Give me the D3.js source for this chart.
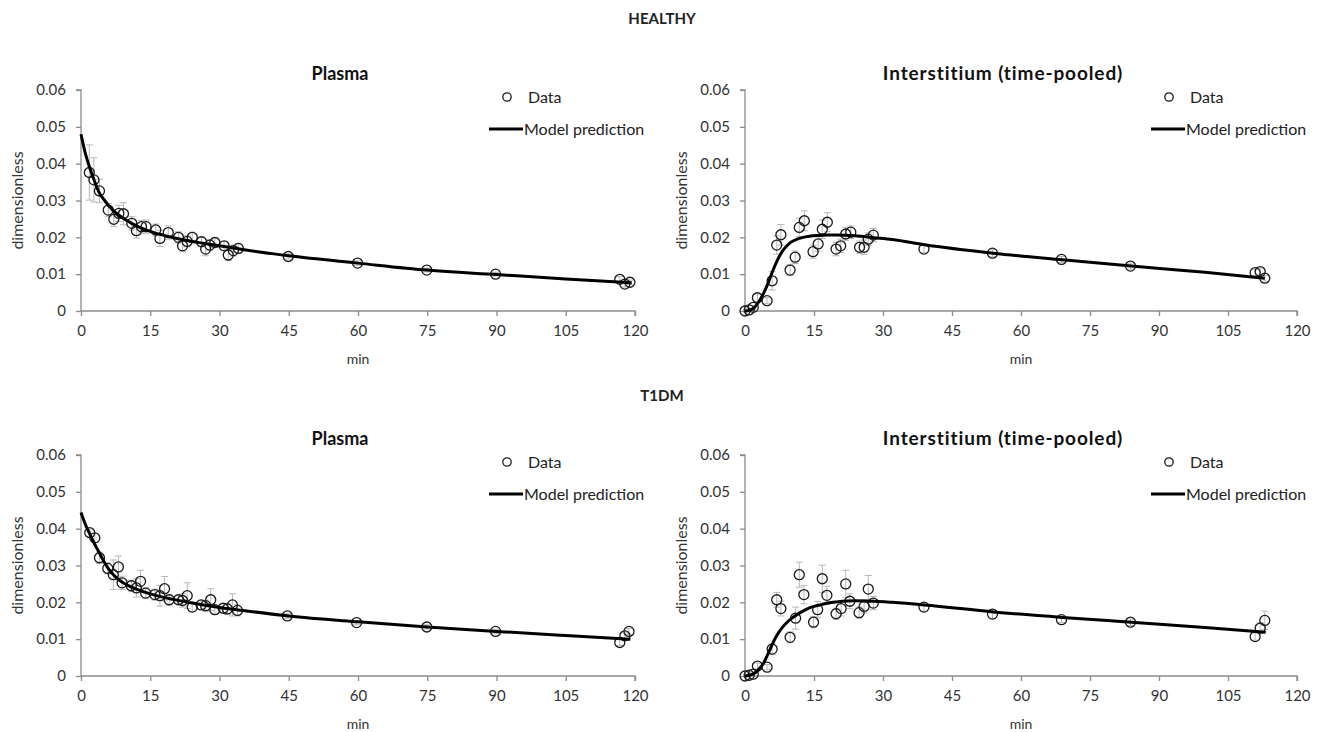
<!DOCTYPE html>
<html><head><meta charset="utf-8">
<script src="https://cdn.jsdelivr.net/npm/d3@7"></script>
<style>
body{margin:0;background:#fff;}
text{font-family:Lato,"Open Sans",sans-serif;}
</style></head>
<body><svg id="c" width="1323" height="732"></svg>
<script>
// ---------- data ----------
const xTicks = [0,15,30,45,60,75,90,105,120];
const yTicks = [0,0.01,0.02,0.03,0.04,0.05,0.06];
const yTickLabels = ["0","0.01","0.02","0.03","0.04","0.05","0.06"];
const groupTitles = ["HEALTHY","T1DM"];
const panelTitles = ["Plasma","Interstitium (time-pooled)"];
const legendLabels = ["Data","Model prediction"];

// Healthy plasma
const hpTime = [1.8,2.8,4.0,5.9,7.1,8.2,9.2,11.0,12.0,13.1,14.1,16.2,17.1,18.9,21.1,22.0,23.0,24.1,26.1,27.0,27.9,29.0,31.0,31.9,33.0,34.1,44.9,59.9,74.9,89.8,116.7,117.8,118.9];
const hpValue = [0.0376,0.0356,0.0326,0.0274,0.0249,0.0265,0.0264,0.0238,0.0218,0.0229,0.0229,0.0220,0.0197,0.0213,0.0200,0.0177,0.0189,0.0200,0.0188,0.0168,0.0179,0.0186,0.0177,0.0152,0.0164,0.0170,0.0148,0.0130,0.0111,0.0100,0.0086,0.0073,0.0078];
const hpError = [0.0075,0.0060,0.0032,0.0018,0.0020,0.0022,0.0030,0.0018,0.0020,0.0017,0.0018,0.0016,0.0022,0.0018,0.0015,0.0016,0.0015,0.0014,0.0012,0.0018,0.0015,0.0013,0.0012,0.0015,0.0015,0.0012,0.0007,0.0006,0.0005,0.0005,0.0008,0.0008,0.0006];
const hpModelTime = [0,1,2,3,4,5,6,8,10,12,15,20,25,30,35,45,60,75,90,105,119.3];
const hpModelValue = [0.0480,0.0425,0.0385,0.0350,0.0320,0.0302,0.0286,0.0262,0.0245,0.0231,0.0216,0.0199,0.0187,0.0177,0.0167,0.0150,0.0130,0.0111,0.0099,0.0087,0.0077];

// Healthy interstitium
const hiTime = [0,0.9,1.8,2.7,4.8,5.9,6.9,7.8,9.8,10.9,11.8,12.9,14.8,15.9,16.8,17.9,19.8,20.8,21.9,23.0,24.9,25.9,26.8,27.9,38.9,53.8,68.8,83.8,110.9,112.0,113.0];
const hiValue = [0,0.0003,0.0010,0.0036,0.0028,0.0082,0.0179,0.0207,0.0111,0.0146,0.0227,0.0245,0.0161,0.0182,0.0222,0.0241,0.0168,0.0177,0.0209,0.0214,0.0173,0.0173,0.0195,0.0206,0.0168,0.0157,0.0140,0.0122,0.0104,0.0107,0.0089];
const hiError = [0,0.0003,0.0005,0.0010,0.0008,0.0025,0.0025,0.0028,0.0015,0.0017,0.0025,0.0027,0.0018,0.0020,0.0025,0.0026,0.0018,0.0018,0.0018,0.0017,0.0017,0.0020,0.0017,0.0018,0.0010,0.0010,0.0008,0.0008,0.0008,0.0009,0.0008];
const hiModelTime = [0,1,2,3,4,5,6,7,8,9,10,12,14,16,18,20,24,28,32,39,54,69,84,100,113];
const hiModelValue = [0,0.0002,0.0009,0.0025,0.0047,0.0075,0.0108,0.0137,0.0160,0.0176,0.0187,0.0198,0.0203,0.0205,0.0206,0.0206,0.0204,0.0199,0.0194,0.0180,0.0157,0.0139,0.0122,0.0105,0.0089];

// T1DM plasma
const tpTime = [1.9,3.0,4.0,5.8,7.0,8.1,8.9,10.9,12.0,12.9,14.0,16.0,17.1,18.1,19.1,21.1,22.0,23.0,24.1,26.0,27.0,28.1,29.0,30.8,31.7,32.8,33.9,44.7,59.7,74.9,89.8,116.7,117.8,118.7];
const tpValue = [0.0389,0.0375,0.0321,0.0292,0.0275,0.0296,0.0253,0.0245,0.0239,0.0257,0.0225,0.0221,0.0218,0.0237,0.0207,0.0207,0.0205,0.0218,0.0187,0.0193,0.0191,0.0207,0.0180,0.0184,0.0182,0.0193,0.0178,0.0163,0.0145,0.0133,0.0121,0.0091,0.0109,0.0121];
const tpError = [0.0010,0.0012,0.0015,0.0015,0.0040,0.0030,0.0018,0.0015,0.0025,0.0030,0.0015,0.0015,0.0028,0.0033,0.0015,0.0012,0.0018,0.0035,0.0012,0.0012,0.0015,0.0030,0.0012,0.0012,0.0015,0.0030,0.0015,0.0006,0.0006,0.0006,0.0006,0.0008,0.0008,0.0008];
const tpModelTime = [0,1,2,3,4,5,6,8,10,12,15,20,25,30,35,45,60,75,90,105,119];
const tpModelValue = [0.0444,0.0410,0.0383,0.0357,0.0334,0.0310,0.0290,0.0263,0.0247,0.0236,0.0223,0.0208,0.0196,0.0186,0.0178,0.0163,0.0147,0.0133,0.0121,0.0110,0.0100];

// T1DM interstitium
const tiTime = [0,0.9,1.8,2.7,4.8,5.9,6.9,7.8,9.8,11.0,11.8,12.8,14.9,15.8,16.8,17.8,19.8,20.9,21.9,22.8,24.8,25.9,26.8,27.9,38.9,53.8,68.8,83.8,110.9,112.0,113.0];
const tiValue = [0,0.0002,0.0005,0.0027,0.0024,0.0073,0.0207,0.0183,0.0105,0.0157,0.0275,0.0221,0.0146,0.0180,0.0264,0.0219,0.0169,0.0183,0.0250,0.0203,0.0172,0.0189,0.0236,0.0198,0.0187,0.0168,0.0153,0.0146,0.0107,0.0130,0.0151];
const tiError = [0,0.0003,0.0004,0.0008,0.0007,0.0015,0.0020,0.0020,0.0015,0.0030,0.0034,0.0025,0.0015,0.0022,0.0037,0.0025,0.0015,0.0020,0.0037,0.0020,0.0015,0.0018,0.0037,0.0018,0.0012,0.0012,0.0008,0.0009,0.0010,0.0015,0.0025];
const tiModelTime = [0,1,2,3,4,5,6,7,8,9,10,12,14,16,18,20,24,28,32,39,54,69,84,100,113.2];
const tiModelValue = [0,0.0002,0.0007,0.0018,0.0034,0.0060,0.0088,0.0112,0.0130,0.0144,0.0155,0.0172,0.0185,0.0192,0.0198,0.0201,0.0204,0.0203,0.0200,0.0193,0.0174,0.0159,0.0146,0.0132,0.0119];

// ---------- drawing ----------
const svg = d3.select("#c");
const panels = [
  {t:hpTime,v:hpValue,e:hpError,mt:hpModelTime,mv:hpModelValue,x0:81,x1:635,y0:311,y1:90,title:panelTitles[0],tfs:18,tls:0},
  {t:hiTime,v:hiValue,e:hiError,mt:hiModelTime,mv:hiModelValue,x0:745,x1:1297,y0:311,y1:90,title:panelTitles[1],tfs:19,tls:0.9},
  {t:tpTime,v:tpValue,e:tpError,mt:tpModelTime,mv:tpModelValue,x0:81,x1:635,y0:676,y1:455,title:panelTitles[0],tfs:18,tls:0},
  {t:tiTime,v:tiValue,e:tiError,mt:tiModelTime,mv:tiModelValue,x0:745,x1:1297,y0:676,y1:455,title:panelTitles[1],tfs:19,tls:0.9}
];

svg.append("text").attr("x",662).attr("y",24).attr("text-anchor","middle")
  .attr("font-weight","bold").attr("font-size",15).attr("fill","#222").text(groupTitles[0]);
svg.append("text").attr("x",662).attr("y",401).attr("text-anchor","middle")
  .attr("font-weight","bold").attr("font-size",15).attr("fill","#222").text(groupTitles[1]);

const axisColor = "#8c8c8c", labelColor = "#333";

panels.forEach(p=>{
  const x = d3.scaleLinear().domain([0,120]).range([p.x0,p.x1]);
  const y = d3.scaleLinear().domain([0,0.06]).range([p.y0,p.y1]);
  const g = svg.append("g");

  // axes
  const xa = g.append("g").attr("transform",`translate(0,${p.y0})`)
    .call(d3.axisBottom(x).tickValues(xTicks).tickSize(5).tickPadding(9).tickFormat(d3.format("d")));
  const ya = g.append("g").attr("transform",`translate(${p.x0},0)`)
    .call(d3.axisLeft(y).tickValues(yTicks).tickSize(5).tickPadding(10).tickFormat((d,i)=>yTickLabels[i]));
  [xa,ya].forEach(a=>{
    a.select(".domain").attr("stroke",axisColor).attr("stroke-width",1.3);
    a.selectAll(".tick line").attr("stroke",axisColor).attr("stroke-width",1.3);
    a.selectAll(".tick text").attr("fill",labelColor).attr("font-size",15).attr("font-family","Lato, sans-serif");
  });
  ya.select(".domain").attr("d",`M0,${p.y0}V${p.y1}H-5`);
  xa.select(".domain").attr("d",`M${p.x0},0H${p.x1}V5`);

  // axis titles
  g.append("text").attr("x",(p.x0+p.x1)/2).attr("y",p.y0+53).attr("text-anchor","middle")
    .attr("font-size",14).attr("fill",labelColor).text("min");
  g.append("text").attr("transform",`translate(${p.x0-58},${(p.y0+p.y1)/2}) rotate(-90)`)
    .attr("text-anchor","middle").attr("font-size",16).attr("fill",labelColor).text("dimensionless");

  // panel title
  g.append("text").attr("x",(p.x0+p.x1)/2-18).attr("y",p.y1-10).attr("text-anchor","middle")
    .attr("font-weight","bold").attr("font-size",p.tfs).attr("letter-spacing",p.tls).attr("fill","#111").text(p.title);

  // error bars
  const pts = p.t.map((t,i)=>({t, v:p.v[i], e:p.e[i]}));
  const eb = g.append("g").attr("stroke","#b8b8b8").attr("stroke-width",1);
  pts.filter(d=>d.e>0).forEach(d=>{
    const cx = x(d.t), ya1 = y(d.v+d.e), yb = y(Math.max(0,d.v-d.e));
    eb.append("line").attr("x1",cx).attr("x2",cx).attr("y1",ya1).attr("y2",yb);
    eb.append("line").attr("x1",cx-3.5).attr("x2",cx+3.5).attr("y1",ya1).attr("y2",ya1);
    eb.append("line").attr("x1",cx-3.5).attr("x2",cx+3.5).attr("y1",yb).attr("y2",yb);
  });

  // circles
  g.append("g").selectAll("circle").data(pts).join("circle")
    .attr("cx",d=>x(d.t)).attr("cy",d=>y(d.v)).attr("r",5)
    .attr("fill","none").attr("stroke","#1a1a1a").attr("stroke-width",1.3);

  // model line
  const model = p.mt.map((t,i)=>[t,p.mv[i]]);
  g.append("path").datum(model)
    .attr("d",d3.line().x(d=>x(d[0])).y(d=>y(d[1])).curve(d3.curveMonotoneX))
    .attr("fill","none").attr("stroke","#000").attr("stroke-width",3);

  // legend
  const lx = p.x1-128, ly = p.y1+7;
  g.append("circle").attr("cx",lx).attr("cy",ly).attr("r",4.2)
    .attr("fill","none").attr("stroke","#1a1a1a").attr("stroke-width",1.3);
  g.append("text").attr("x",lx+21).attr("y",ly+5.5).attr("font-size",16).attr("fill","#222").text(legendLabels[0]);
  g.append("line").attr("x1",lx-18).attr("x2",lx+16).attr("y1",ly+32).attr("y2",ly+32)
    .attr("stroke","#000").attr("stroke-width",3);
  g.append("text").attr("x",lx+17).attr("y",ly+37.5).attr("font-size",16).attr("fill","#222").text(legendLabels[1]);
});
</script></body></html>
